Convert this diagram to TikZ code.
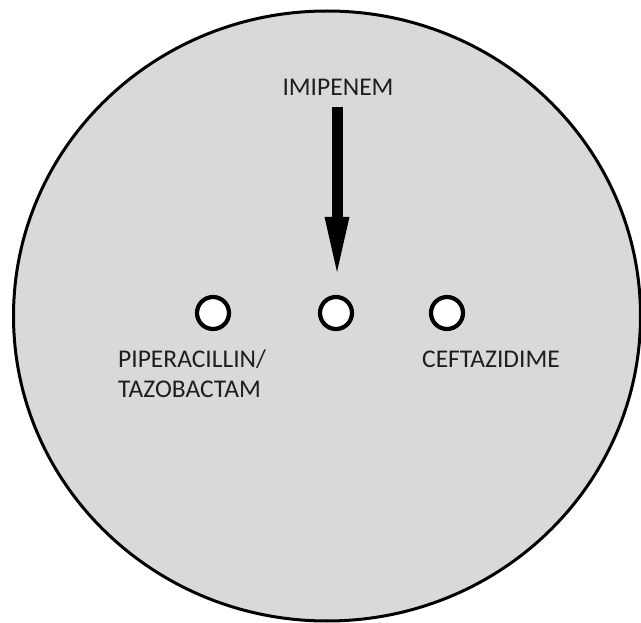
\documentclass[tikz,border=0pt]{standalone}
\usepackage{fontspec}
\setmainfont{Carlito}
\usetikzlibrary{arrows.meta,shapes.geometric}
\definecolor{plate}{HTML}{D9D9D9}
\definecolor{ink}{HTML}{1E1E1E}
\tikzset{
  platestyle/.style={ellipse,draw=black,line width=3pt,fill=plate,minimum width=627pt,minimum height=610pt,inner sep=0pt},
  disk/.style={circle,draw=black,line width=4.2pt,fill=white,minimum size=32pt,inner sep=0pt},
  lbl/.style={text=ink,font=\fontsize{25.5}{30}\selectfont,inner sep=0pt},
  bigarrow/.style={line width=11pt,-{Triangle[width=21pt,length=64pt]}}
}
\begin{document}
\begin{tikzpicture}[x=1pt,y=-1pt]
\useasboundingbox (0,0) rectangle (641,623);
\fill[white] (0,0) rectangle (641,623);
\node[platestyle] (plate) at (327,316) {};
\node[disk] (d1) at (213,313) {};
\node[disk] (d2) at (336,313) {};
\node[disk] (d3) at (447,313) {};
\node[lbl,anchor=base] (imi) at (338,96) {IMIPENEM};
\node[lbl,anchor=base west] (pip1) at (118,367) {PIPERACILLIN/};
\node[lbl,anchor=base west] (pip2) at (118,397) {TAZOBACTAM};
\node[lbl,anchor=base west] (cef) at (422,367) {CEFTAZIDIME};
\coordinate (astart) at (337,107);
\coordinate (aend) at (337,281);
\draw[bigarrow] (astart) -- (aend);
\end{tikzpicture}
\end{document}
